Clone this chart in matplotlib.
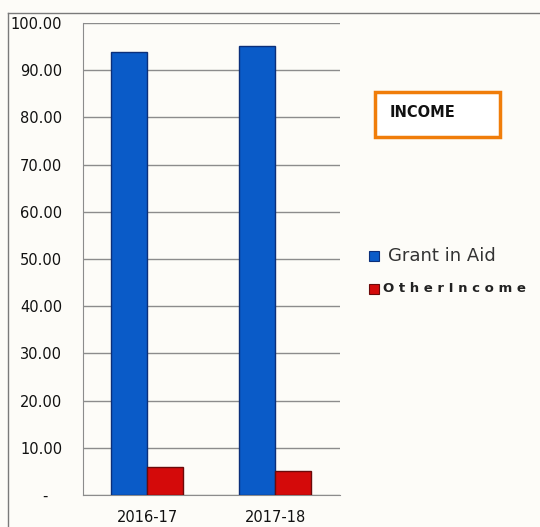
import matplotlib
matplotlib.use("Agg")
import matplotlib.pyplot as plt
from matplotlib.patches import Rectangle
import numpy as np

categories = ["2016-17", "2017-18"]
grant_in_aid = [93.9, 95.1]
other_income = [5.9, 5.1]
yticks = [0, 10, 20, 30, 40, 50, 60, 70, 80, 90, 100]
ytick_labels = ["-   ", "10.00", "20.00", "30.00", "40.00", "50.00", "60.00", "70.00", "80.00", "90.00", "100.00"]

W, H = 540, 527
fig = plt.figure(figsize=(W/100, H/100), dpi=100)
bg = "#fdfcf8"
fig.patch.set_facecolor(bg)

ax = fig.add_axes([83/W, 1-495/H, (340-83)/W, (495-23)/H])
ax.set_facecolor(bg)
x = np.arange(len(categories))
bw = 0.28
ax.bar(x - bw/2, grant_in_aid, bw, color="#0a5bc8", edgecolor="#0b2f7a", linewidth=1.0, zorder=3)
ax.bar(x + bw/2, other_income, bw, color="#d40a0a", edgecolor="#6b0a0a", linewidth=1.0, zorder=3)
ax.set_xlim(-64/128, -64/128 + 257/128)
ax.set_ylim(0, 100)
ax.set_yticks(yticks)
ax.set_yticklabels(ytick_labels, fontsize=10.5, color="#111111")
ax.set_xticks(x)
ax.set_xticklabels(categories, fontsize=10.5, color="#111111")
ax.tick_params(axis="both", length=0)
ax.tick_params(axis="y", pad=15)
ax.tick_params(axis="x", pad=11)
ax.yaxis.grid(True, color="#8c8c8c", linewidth=1.0, zorder=0)
for s in ["top", "right"]:
    ax.spines[s].set_visible(False)
ax.spines["left"].set_color("#8c8c8c")
ax.spines["bottom"].set_color("#8c8c8c")

# outer border lines
fig.add_artist(plt.Line2D([8/W, 1], [1-13/H, 1-13/H], color="#7a7a7a", linewidth=1.0))
fig.add_artist(plt.Line2D([8/W, 8/W], [0, 1-13/H], color="#7a7a7a", linewidth=1.0))

# INCOME box
fig.add_artist(Rectangle((375/W, 1-137/H), 125/W, 45/H, facecolor="white",
                         edgecolor="#f07d0a", linewidth=2.5))
fig.text(390/W, 1-113/H, "INCOME", fontsize=10.5, fontweight="bold", color="#111111", va="center")

# legend
fig.add_artist(Rectangle((369/W, 1-261/H), 10/W, 10/H, facecolor="#0a5bc8", edgecolor="#0b2f7a", linewidth=0.8))
fig.text(388/W, 1-256/H, "Grant in Aid", fontsize=13, color="#333333", va="center")
fig.add_artist(Rectangle((369/W, 1-294/H), 10/W, 10/H, facecolor="#d40a0a", edgecolor="#6b0a0a", linewidth=0.8))
fig.text(383/W, 1-289/H, " ".join("OtherIncome"), fontsize=9.5, fontweight="bold", color="#222222", va="center")

fig.savefig("out.png", dpi=100, facecolor=bg)
